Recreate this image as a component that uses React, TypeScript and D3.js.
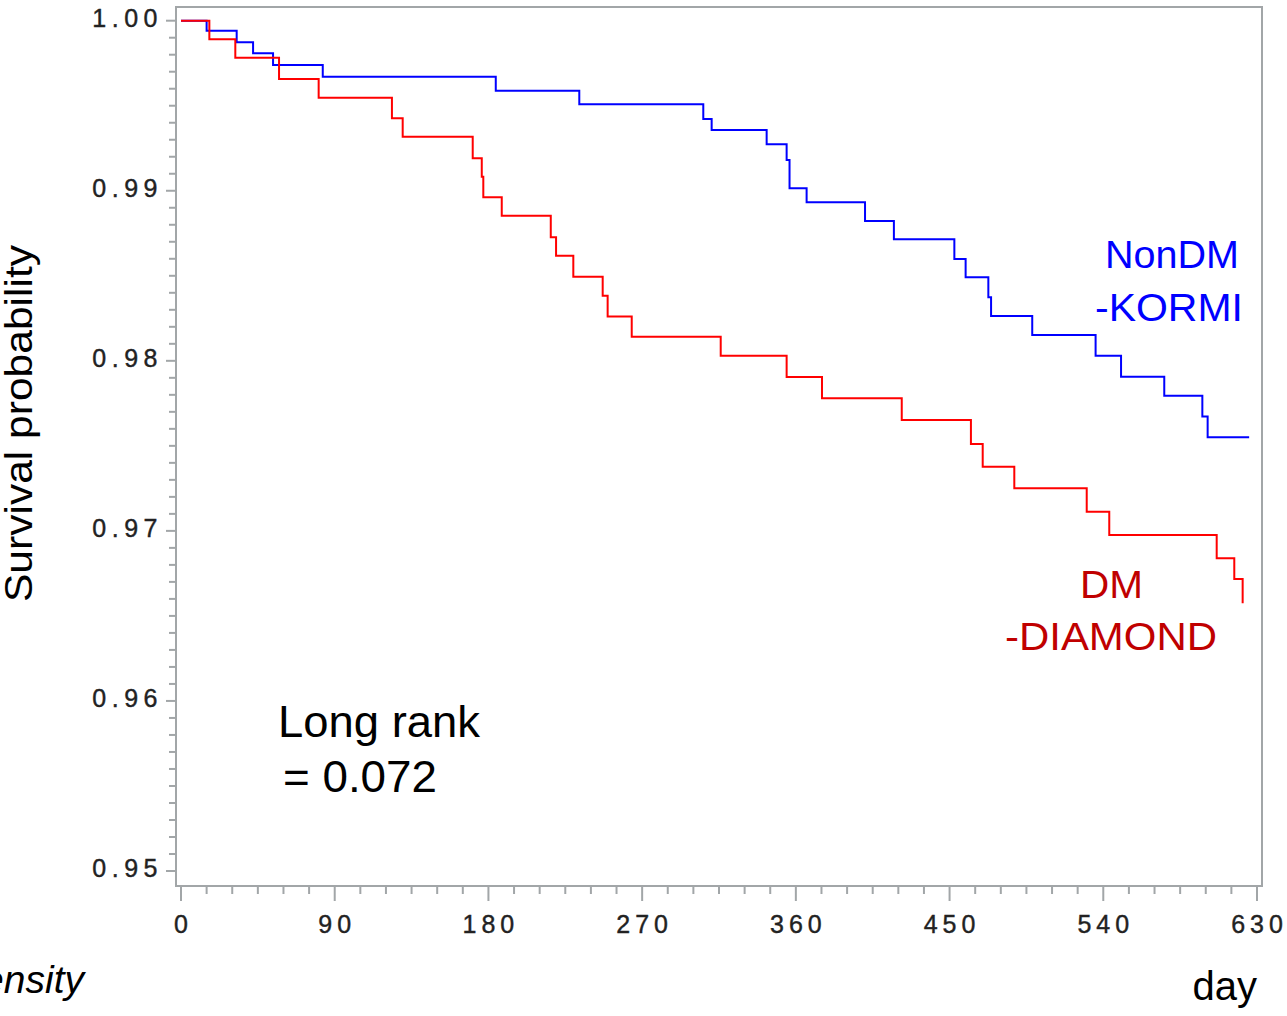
import React from "react";
import * as d3 from "d3";

// ---- data ----
const xMajorTicks = [0, 90, 180, 270, 360, 450, 540, 630];
const yMajorTicks = [0.95, 0.96, 0.97, 0.98, 0.99, 1.0];
const yTickLabels = ["0.95", "0.96", "0.97", "0.98", "0.99", "1.00"];

// NonDM-KORMI (blue): [day, survival]
const nonDmDays = [0, 15.0, 32.6, 42.2, 53.9, 83.0, 184.3, 233.2, 305.8, 310.7, 342.9, 354.6, 356.3, 366.3, 400.5, 417.4, 452.8, 459.4, 472.7, 474.3, 498.4, 535.5, 550.4, 575.7, 598.0, 601.1, 625.4];
const nonDmSurv = [1.0, 0.99941, 0.99873, 0.99808, 0.9974, 0.99671, 0.99588, 0.99508, 0.99422, 0.99357, 0.99273, 0.99181, 0.99015, 0.98932, 0.98822, 0.98715, 0.98599, 0.98491, 0.98374, 0.98264, 0.98152, 0.9803, 0.97907, 0.97795, 0.97672, 0.9755, 0.9755];

// DM-DIAMOND (red): [day, survival]
const dmDays = [0, 16.6, 31.8, 57.4, 80.6, 123.5, 129.8, 170.8, 176.1, 177.0, 187.8, 216.5, 219.6, 229.7, 246.9, 249.8, 263.9, 316.0, 354.6, 375.3, 422.0, 462.5, 469.4, 487.9, 530.3, 543.5, 606.4, 616.7, 621.6];
const dmSurv = [1.0, 0.99891, 0.99782, 0.99657, 0.99547, 0.99426, 0.99318, 0.99191, 0.99083, 0.98962, 0.98853, 0.98726, 0.98618, 0.98495, 0.98383, 0.9826, 0.98142, 0.9803, 0.97905, 0.9778, 0.97652, 0.97511, 0.97377, 0.97251, 0.97113, 0.96976, 0.96839, 0.96717, 0.96574];

const W = 1287;
const H = 1016;
const frame = { left: 176, top: 7, right: 1262, bottom: 886 };
const AXIS = "#a2a6a8";
const TICKTXT = "#222";
const FONT = "'Liberation Sans', Arial, sans-serif";

export default function App() {
  const x = d3.scaleLinear().domain([0, 630]).range([181, 1257]);
  const y = d3.scaleLinear().domain([0.95, 1.0]).range([871, 20.7]);

  const line = d3
    .line<[number, number]>()
    .x((d) => x(d[0]))
    .y((d) => y(d[1]))
    .curve(d3.curveStepAfter);

  const bluePts = nonDmDays.map((t, i) => [t, nonDmSurv[i]] as [number, number]);
  const redPts = dmDays.map((t, i) => [t, dmSurv[i]] as [number, number]);

  const xMinor = d3.range(0, 631, 15);
  const yMinor = d3.range(0, 51).map((i) => 0.95 + i * 0.001);

  const label = (
    txt: string,
    xx: number,
    yy: number,
    len: number,
    color: string,
    size: number,
    anchor: string = "start"
  ) => (
    <text
      x={xx}
      y={yy}
      textAnchor={anchor}
      fontFamily={FONT}
      fontSize={size}
      textLength={len}
      lengthAdjust="spacingAndGlyphs"
      fill={color}
    >
      {txt}
    </text>
  );

  return (
    <svg
      width={W}
      height={H}
      style={{ position: "absolute", left: 0, top: 0, background: "#fff" }}
    >
      <rect x={0} y={0} width={W} height={H} fill="#fff" />
      {/* frame */}
      <rect
        x={frame.left}
        y={frame.top}
        width={frame.right - frame.left}
        height={frame.bottom - frame.top}
        fill="none"
        stroke={AXIS}
        strokeWidth={2}
      />
      {/* y ticks */}
      {yMinor.map((v, i) => (
        <line
          key={"ym" + i}
          x1={frame.left - (i % 10 === 0 ? 10 : 7)}
          x2={frame.left}
          y1={y(v)}
          y2={y(v)}
          stroke={AXIS}
          strokeWidth={2}
        />
      ))}
      {yMajorTicks.map((v, i) => (
        <text
          key={"yl" + i}
          x={163}
          y={y(v) + 6}
          textAnchor="end"
          fontFamily={FONT}
          fontSize={25}
          letterSpacing={5.5}
          fill={TICKTXT}
          stroke={TICKTXT}
          strokeWidth={0.4}
        >
          {yTickLabels[i]}
        </text>
      ))}
      {/* x ticks */}
      {xMinor.map((t, i) => (
        <line
          key={"xm" + i}
          x1={x(t)}
          x2={x(t)}
          y1={frame.bottom}
          y2={frame.bottom + (t % 90 === 0 ? 15 : 8)}
          stroke={AXIS}
          strokeWidth={2}
        />
      ))}
      {xMajorTicks.map((t, i) => (
        <text
          key={"xl" + i}
          x={x(t) + 2.5}
          y={933}
          textAnchor="middle"
          fontFamily={FONT}
          fontSize={25}
          letterSpacing={5}
          fill={TICKTXT}
          stroke={TICKTXT}
          strokeWidth={0.4}
        >
          {String(t)}
        </text>
      ))}
      {/* curves */}
      <path d={line(bluePts) || ""} fill="none" stroke="#0000ff" strokeWidth={2} />
      <path d={line(redPts) || ""} fill="none" stroke="#ff0000" strokeWidth={2} />

      {/* axis titles */}
      <text
        transform="translate(32,423.5) rotate(-90)"
        textAnchor="middle"
        fontFamily={FONT}
        fontSize={39}
        textLength={357}
        lengthAdjust="spacingAndGlyphs"
        fill="#000"
      >
        Survival probability
      </text>
      <text x={1257} y={1000} textAnchor="end" fontFamily={FONT} fontSize={40} fill="#000">
        day
      </text>
      <text
        x={84}
        y={993}
        textAnchor="end"
        fontFamily={FONT}
        fontSize={39}
        fontStyle="italic"
        fill="#000"
      >
        Density
      </text>

      {/* annotation */}
      {label("Long rank", 278, 737, 202, "#000", 45)}
      {label("= 0.072", 283, 792, 154, "#000", 45)}

      {/* group labels */}
      {label("NonDM", 1105, 268, 134, "#0000ff", 39)}
      {label("-KORMI", 1095, 321, 148, "#0000ff", 39)}
      {label("DM", 1080, 598, 63, "#c00000", 39)}
      {label("-DIAMOND", 1005, 650, 212, "#c00000", 39)}
    </svg>
  );
}
